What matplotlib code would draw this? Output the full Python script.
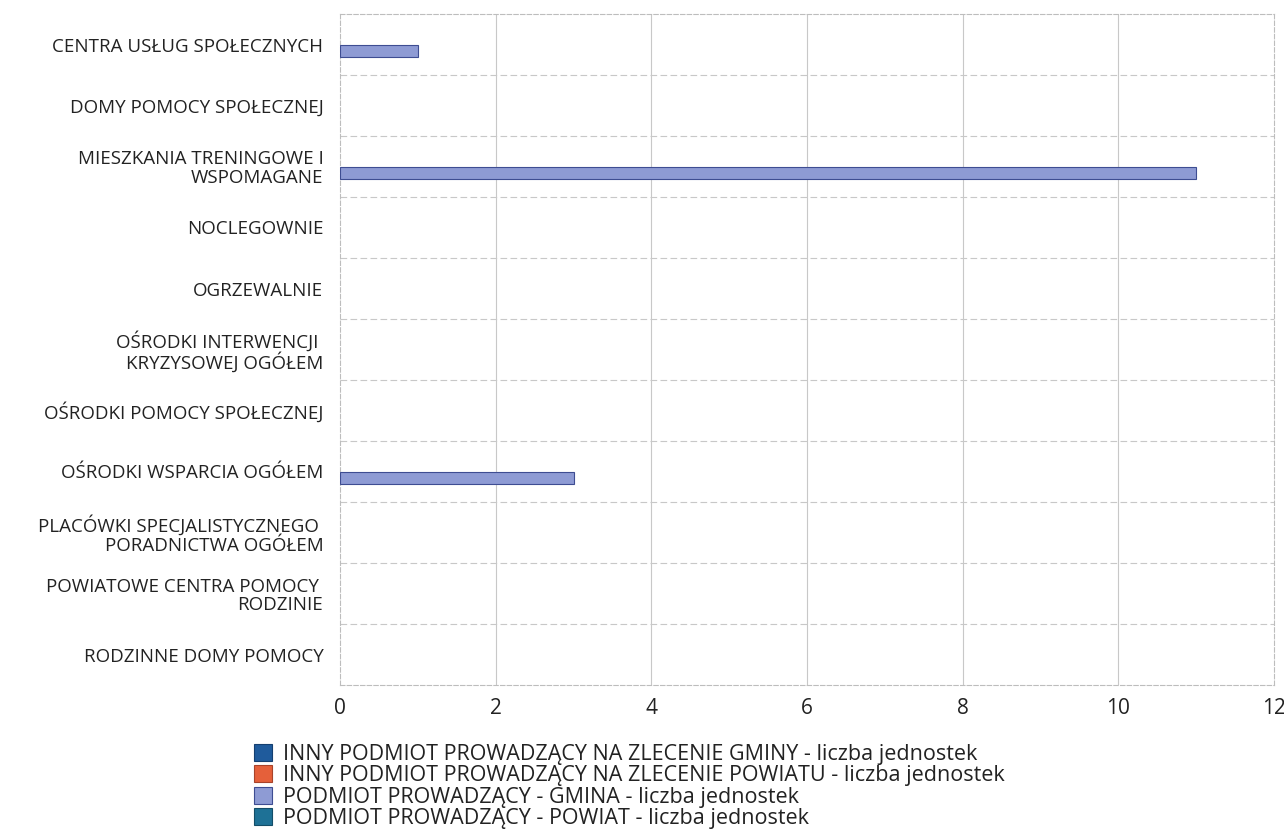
import numpy as np
import matplotlib
matplotlib.use("Agg")
import matplotlib.pyplot as plt
from matplotlib.patches import Patch

plt.rcParams['font.family'] = ['Open Sans', 'DejaVu Sans']

categories = [
    "CENTRA USŁUG SPOŁECZNYCH",
    "DOMY POMOCY SPOŁECZNEJ",
    "MIESZKANIA TRENINGOWE I\nWSPOMAGANE",
    "NOCLEGOWNIE",
    "OGRZEWALNIE",
    "OŚRODKI INTERWENCJI \nKRYZYSOWEJ OGÓŁEM",
    "OŚRODKI POMOCY SPOŁECZNEJ",
    "OŚRODKI WSPARCIA OGÓŁEM",
    "PLACÓWKI SPECJALISTYCZNEGO \nPORADNICTWA OGÓŁEM",
    "POWIATOWE CENTRA POMOCY \nRODZINIE",
    "RODZINNE DOMY POMOCY",
]

series_names = [
    "INNY PODMIOT PROWADZĄCY NA ZLECENIE GMINY - liczba jednostek",
    "INNY PODMIOT PROWADZĄCY NA ZLECENIE POWIATU - liczba jednostek",
    "PODMIOT PROWADZĄCY - GMINA - liczba jednostek",
    "PODMIOT PROWADZĄCY - POWIAT - liczba jednostek",
]
inny_gmina = [0, 0, 0, 0, 0, 0, 0, 0, 0, 0, 0]
inny_powiat = [0, 0, 0, 0, 0, 0, 0, 0, 0, 0, 0]
gmina = [1, 0, 11, 0, 0, 0, 0, 3, 0, 0, 0]
powiat = [0, 0, 0, 0, 0, 0, 0, 0, 0, 0, 0]

colors = ['#1f5b9c', '#e5603a', '#8e9bd4', '#1e7196']
edges = ['#143f70', '#a8432a', '#3e4d92', '#134d68']

fig = plt.figure(figsize=(12.84, 8.4), dpi=100)
ax = fig.add_axes([340 / 1284, 1 - 685 / 840, 934 / 1284, 671 / 840])

y = np.arange(len(categories))
h = 0.2
all_series = [inny_gmina, inny_powiat, gmina, powiat]
for i, vals in enumerate(all_series):
    offs = (i - 1.5) * h
    vals = np.array(vals, dtype=float)
    mask = vals > 0
    ax.barh(y[mask] + offs, vals[mask], height=h, color=colors[i],
            edgecolor=edges[i], linewidth=0.8, zorder=3)

ax.set_ylim(len(categories) - 0.5, -0.5)
ax.set_xlim(0, 12)
ax.set_xticks(range(0, 13, 2))
ax.set_yticks(y)
ax.set_yticklabels(categories, fontsize=13.5, color='#222222', ha='right',
                   multialignment='right', linespacing=1.05)
ax.tick_params(axis='y', length=0, pad=12)
ax.tick_params(axis='x', length=0, pad=9, labelsize=15, labelcolor='#222222')

# grid: solid vertical, dashed horizontal between categories
for xv in range(2, 12, 2):
    ax.axvline(xv, color='#c8c8c8', lw=0.8, zorder=1)
for yb in np.arange(0.5, len(categories) - 0.5, 1):
    ax.axhline(yb, color='#c8c8c8', lw=0.8, ls=(0, (6, 3)), zorder=1)

for s in ax.spines.values():
    s.set_color('#bdbdbd')
    s.set_linewidth(0.8)
    s.set_linestyle((0, (4, 2)))

handles = [Patch(facecolor=c, edgecolor=e, linewidth=0.8) for c, e in zip(colors, edges)]
fig.legend(handles, series_names, loc='upper left', bbox_to_anchor=(243 / 1284, 1 - 733 / 840),
           frameon=False, fontsize=15.5, handlelength=0.85, handleheight=0.85,
           handletextpad=0.5, labelspacing=0.02, borderpad=0, labelcolor='#222222')

fig.savefig("out.png", dpi=100)
